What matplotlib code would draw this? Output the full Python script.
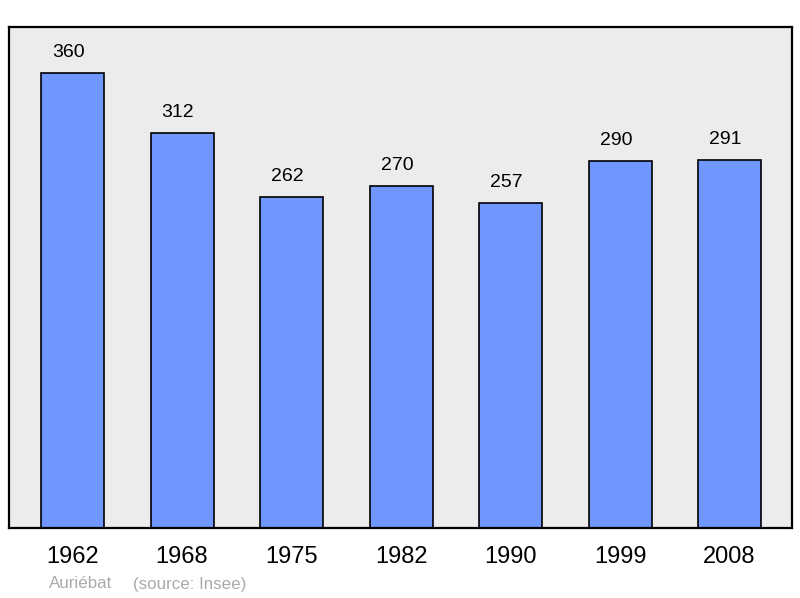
import matplotlib.pyplot as plt

years = ["1962", "1968", "1975", "1982", "1990", "1999", "2008"]
population = [360, 312, 262, 270, 257, 290, 291]

plt.rcParams["font.family"] = ["Liberation Sans", "DejaVu Sans"]

fig = plt.figure(figsize=(8, 5.98), dpi=100)
ax = fig.add_axes([9 / 800, 70 / 598, 783 / 800, 501 / 598])
ax.set_facecolor("#ececec")

x = list(range(len(years)))
bars = ax.bar(x, population, width=0.575, color="#7097ff", edgecolor="black", linewidth=1.2)

for xi, v in zip(x, population):
    ax.annotate(str(v), (xi, v), xytext=(-3, 11.5), textcoords="offset points",
                ha="center", va="baseline", fontsize=14)

ax.set_xlim(-0.58, 6.57)
ax.set_ylim(0, 396)
ax.set_yticks([])
ax.set_xticks(x)
ax.set_xticklabels(years, fontsize=17)
ax.tick_params(axis="x", length=0, pad=13)
for s in ax.spines.values():
    s.set_linewidth(1.6)
    s.set_color("black")

fig.text(49 / 800, 1 - 584 / 598, "Auriébat", color="#aaaaaa",
         fontsize=12.2, ha="left", va="center")
fig.text(133 / 800, 1 - 584 / 598, "(source: Insee)", color="#aaaaaa",
         fontsize=12.2, ha="left", va="center")

fig.savefig("out.png", dpi=100)
